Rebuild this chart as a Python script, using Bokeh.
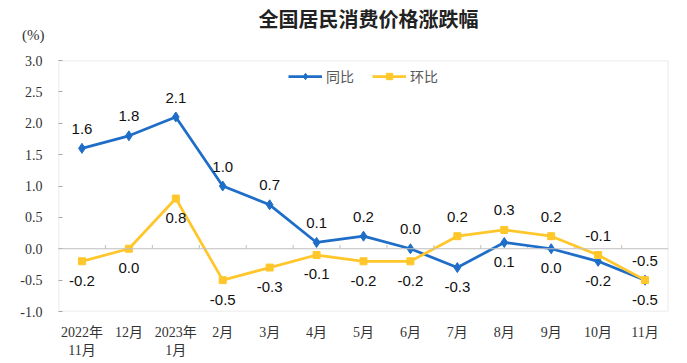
from bokeh.plotting import figure
from bokeh.layouts import column
from bokeh.models import (Range1d, FixedTicker, Span, ColumnDataSource,
                          PrintfTickFormatter, BoxAnnotation, Div)
from bokeh.core.properties import value
from bokeh.embed import file_html
from bokeh.resources import INLINE

title_text = "全国居民消费价格涨跌幅"
unit_text = "(%)"
months = ["2022年\n11月", "12月", "2023年\n1月", "2月", "3月", "4月", "5月",
          "6月", "7月", "8月", "9月", "10月", "11月"]
yoy = [1.6, 1.8, 2.1, 1.0, 0.7, 0.1, 0.2, 0.0, -0.3, 0.1, 0.0, -0.2, -0.5]
mom = [-0.2, 0.0, 0.8, -0.5, -0.3, -0.1, -0.2, -0.2, 0.2, 0.3, 0.2, -0.1, -0.5]
# which side of the point each value label sits on (1 = above, -1 = below)
yoy_side = [1, 1, 1, 1, 1, 1, 1, 1, -1, -1, -1, -1, 1]
mom_side = [-1, -1, -1, -1, -1, -1, -1, -1, 1, 1, 1, 1, -1]
y_ticks = [-1.0, -0.5, 0.0, 0.5, 1.0, 1.5, 2.0, 2.5, 3.0]

BLUE = "#1E6EC8"
YELLOW = "#FFC72C"
GRAY = "#A6A6A6"
SERIF = "'Liberation Serif', 'Noto Sans CJK SC'"

xs = list(range(len(months)))
OFF = 0.31

src_yoy = ColumnDataSource(dict(
    x=xs, y=yoy, ly=[v + s * OFF for v, s in zip(yoy, yoy_side)],
    t=[f"{v:.1f}" for v in yoy]))
src_mom = ColumnDataSource(dict(
    x=xs, y=mom, ly=[v + s * OFF for v, s in zip(mom, mom_side)],
    t=[f"{v:.1f}" for v in mom]))

# header with the title and the unit
header = Div(
    text=(
        '<div style="position:relative;width:687px;height:44px;">'
        '<div style="position:absolute;left:0;top:9px;width:737px;text-align:center;'
        "font-family:'Noto Sans CJK SC';font-size:20px;line-height:20px;"
        f'font-weight:bold;color:#222222;white-space:nowrap;">{title_text}</div>'
        '<div style="position:absolute;left:22px;top:28px;'
        "font-family:'Liberation Serif';font-size:15px;line-height:15px;"
        f'color:#333333;white-space:nowrap;">{unit_text}</div>'
        '</div>'
    ),
    width=687, height=44, margin=0,
)

p = figure(width=687, height=319, output_backend="svg", toolbar_location=None,
           x_range=Range1d(-0.5, len(months) - 0.5), y_range=Range1d(-1.0, 3.0),
           min_border_left=58, min_border_right=19, min_border_top=16, min_border_bottom=52,
           margin=0)
p.xgrid.visible = False
p.ygrid.visible = False
p.outline_line_color = None
p.background_fill_color = "white"
p.border_fill_color = "white"

# frame box
p.add_layout(BoxAnnotation(fill_alpha=0, line_color=GRAY, line_width=1.5, level="underlay"))

# axes
p.xaxis.ticker = FixedTicker(ticks=xs)
p.xaxis.major_label_overrides = {i: m for i, m in enumerate(months)}
p.xaxis.axis_line_color = None
p.xaxis.major_tick_line_color = None
p.xaxis.minor_tick_line_color = None
p.xaxis.major_label_standoff = 7
p.xaxis.major_label_text_font = SERIF
p.xaxis.major_label_text_font_size = "14px"
p.xaxis.major_label_text_color = "#333333"

p.yaxis.ticker = FixedTicker(ticks=y_ticks)
p.yaxis.formatter = PrintfTickFormatter(format="%.1f")
p.yaxis.axis_line_color = None
p.yaxis.major_tick_line_color = GRAY
p.yaxis.major_tick_in = 4
p.yaxis.major_tick_out = 0
p.yaxis.minor_tick_line_color = None
p.yaxis.major_label_standoff = 16
p.yaxis.major_label_text_font = SERIF
p.yaxis.major_label_text_font_size = "14px"
p.yaxis.major_label_text_color = "#333333"

# zero line with small category-boundary ticks
p.add_layout(Span(location=0, dimension="width", line_color="#BFBFBF", line_width=1.2))
bounds = [i + 0.5 for i in xs[:-1]]
p.segment(x0=bounds, x1=bounds, y0=[0] * len(bounds), y1=[0.06] * len(bounds),
          line_color="#BFBFBF", line_width=1)

# series
p.line("x", "y", source=src_yoy, line_color=BLUE, line_width=2.75, legend_label="同比")
p.scatter("x", "y", source=src_yoy, marker="diamond", size=10, fill_color=BLUE,
          line_color=BLUE, legend_label="同比")
p.line("x", "y", source=src_mom, line_color=YELLOW, line_width=2.75, legend_label="环比")
p.scatter("x", "y", source=src_mom, marker="square", size=7, fill_color=YELLOW,
          line_color=YELLOW, legend_label="环比")

for src in (src_yoy, src_mom):
    p.text("x", "ly", text="t", source=src, text_align="center", text_baseline="middle",
           text_font=value("Liberation Sans"), text_font_size="15px", text_color="#111111")

# legend
lg = p.legend[0]
lg.location = "top_center"
lg.orientation = "horizontal"
lg.border_line_color = None
lg.background_fill_alpha = 0
lg.glyph_width = 34
lg.glyph_height = 16
lg.label_text_font = "Noto Sans CJK SC"
lg.label_text_font_size = "14px"
lg.label_text_color = "#595959"
lg.spacing = 18
lg.label_standoff = 4
lg.padding = 3
lg.margin = 6

layout = column(header, p, spacing=0)
open("out.html", "w").write(file_html(layout, INLINE))
